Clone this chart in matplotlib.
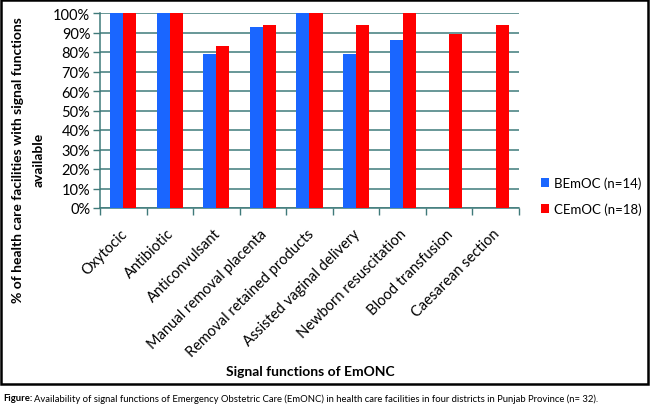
import matplotlib
matplotlib.use("Agg")
import numpy as np
from matplotlib import pyplot as plt
from matplotlib.patches import Rectangle
from matplotlib import transforms

# -----------------------------
# Data
# -----------------------------
categories = ["Oxytocic", "Antibiotic", "Anticonvulsant", "Manual removal placenta",
              "Removal retained products", "Assisted vaginal delivery",
              "Newborn resuscitation", "Blood transfusion", "Caesarean section"]
bemoc = [100, 100, 79, 93, 100, 79, 86, 0, 0]
cemoc = [100, 100, 83, 94, 100, 94, 100, 89, 94]
series_labels = ["BEmOC (n=14)", "CEmOC (n=18)"]
y_ticks = [0, 10, 20, 30, 40, 50, 60, 70, 80, 90, 100]
caption_head = "Figure:"
caption_body = ("Availability of signal functions of Emergency Obstetric Care (EmONC) "
                "in health care facilities in four districts in Punjab Province (n= 32).")

BLUE = "#1a66ff"
RED = "#ff0000"
GRID = "#3f7a7a"

plt.rcParams["font.family"] = ["Lato", "DejaVu Sans"]

fig = plt.figure(figsize=(6.5, 4.1), dpi=100)
ax = fig.add_axes([100 / 650, 1 - 209 / 410, 419 / 650, 195 / 410])

x = np.arange(len(categories))
w = 0.28
ax.bar(x - w / 2, bemoc, w, color=BLUE, label=series_labels[0], zorder=3)
ax.bar(x + w / 2, cemoc, w, color=RED, label=series_labels[1], zorder=3)

ax.set_xlim(-0.5, len(categories) - 0.5)
ax.set_ylim(0, 100)
ax.set_yticks(y_ticks)
ax.set_yticklabels([f"{v}%" for v in y_ticks], fontsize=10.5)
ax.yaxis.grid(True, color=GRID, linewidth=1.1, zorder=0)
ax.set_axisbelow(True)

ax.set_xticks(x)
ax.set_xticklabels(categories, rotation=45, ha="right", rotation_mode="anchor", fontsize=10.5)
ax.tick_params(axis="x", length=0, pad=13)
shift = transforms.ScaledTranslation(-3 / 100, 0, fig.dpi_scale_trans)
for lab in ax.get_xticklabels():
    lab.set_transform(lab.get_transform() + shift)
ax.set_xticks(np.arange(-0.5, len(categories)), minor=True)
ax.tick_params(axis="x", which="minor", length=5, color=GRID, width=1)
ax.tick_params(axis="y", length=5, color=GRID, width=1, pad=2)

for s in ["top", "right"]:
    ax.spines[s].set_visible(False)
for s in ["left", "bottom"]:
    ax.spines[s].set_color(GRID)
    ax.spines[s].set_linewidth(1.1)

fig.text(28 / 650, 1 - 160 / 410,
         "% of health care facilities with signal functions\navailable",
         rotation=90, ha="center", va="center", multialignment="center",
         fontsize=10, fontweight="bold", linespacing=1.85)
fig.text(310 / 650, 1 - 372 / 410, "Signal functions of EmONC",
         ha="center", va="center", fontsize=10, fontweight="bold")

fig.legend(loc="center left", bbox_to_anchor=(536 / 650, 1 - 197 / 410),
           frameon=False, fontsize=9.5, handlelength=0.6, handleheight=0.7,
           handletextpad=0.35, labelspacing=1.0, borderaxespad=0)

# frame around the chart
fig.patches.append(Rectangle((1 / 650, 1 - 385 / 410), 647 / 650, 384 / 410,
                             transform=fig.transFigure, fill=False,
                             edgecolor="black", linewidth=1.8))

# caption, shrunk to fit the reference width
fig.canvas.draw()
r = fig.canvas.get_renderer()
cy = 1 - 399 / 410
size = 9.0
while True:
    t1 = fig.text(3 / 650, cy, caption_head, fontweight="bold", fontstretch="condensed",
                  fontsize=size, va="center", ha="left")
    bb = t1.get_window_extent(renderer=r)
    t2 = fig.text(bb.x1 / fig.bbox.width + 2 / 650, cy, caption_body,
                  fontstretch="condensed", fontsize=size, va="center", ha="left")
    if t2.get_window_extent(renderer=r).x1 <= 600 or size < 5:
        break
    t1.remove()
    t2.remove()
    size -= 0.1

fig.savefig("out.png", dpi=100)
